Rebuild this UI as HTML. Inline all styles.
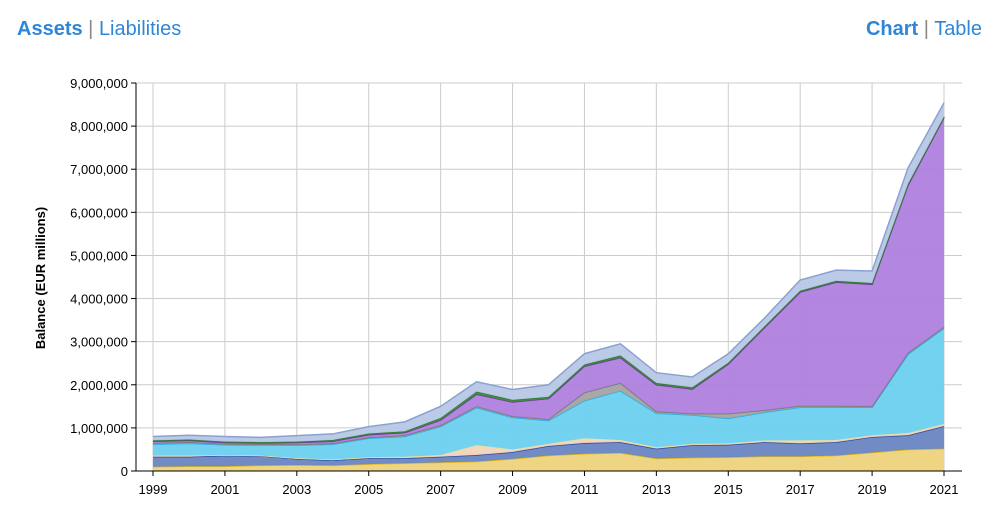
<!DOCTYPE html>
<html><head><meta charset="utf-8"><style>
body{margin:0;background:#fff;font-family:"Liberation Sans",sans-serif;}
#wrap{position:relative;width:992px;height:514px;overflow:hidden}
.hdr{position:absolute;top:18px;font-size:20px;color:#2f86d6}
.hdr b{font-weight:bold}
.sep{color:#888}
</style></head><body>
<div id="wrap">
<div class="hdr" style="left:17px"><b>Assets</b> <span class="sep">|</span> <span>Liabilities</span></div>
<div class="hdr" style="right:10px"><b>Chart</b> <span class="sep">|</span> <span>Table</span></div>
<svg id="chart" width="992" height="514" style="position:absolute;left:0;top:0"></svg>
</div>
<script>
const years=[1999,2000,2001,2002,2003,2004,2005,2006,2007,2008,2009,2010,2011,2012,2013,2014,2015,2016,2017,2018,2019,2020,2021];
const gold=[.10,.11,.11,.13,.14,.13,.16,.18,.20,.22,.28,.36,.40,.42,.29,.31,.32,.34,.34,.36,.43,.50,.52];
const blueS=[.23,.22,.25,.22,.14,.12,.14,.12,.13,.15,.16,.22,.25,.25,.23,.29,.29,.33,.30,.31,.36,.33,.52];
const peach=[.03,.03,.01,.01,.02,.02,.02,.03,.04,.23,.06,.05,.11,.05,.03,.03,.03,.04,.07,.05,.04,.05,.05];
const cyan=[.26,.28,.24,.24,.30,.35,.44,.47,.66,.87,.74,.54,.87,1.14,.79,.67,.58,.65,.77,.76,.65,1.83,2.22];
const gray=[.03,.03,.02,.02,.02,.02,.02,.03,.03,.03,.03,.03,.19,.18,.04,.03,.11,.05,.03,.03,.02,.03,.03];
const purple=[.04,.04,.03,.03,.04,.05,.06,.06,.12,.28,.33,.48,.61,.59,.62,.57,1.15,1.91,2.64,2.87,2.83,3.89,4.86];
const green=[.02,.02,.02,.02,.02,.03,.03,.03,.05,.06,.05,.04,.04,.05,.04,.04,.03,.03,.03,.03,.03,.03,.02];
const other=[.09,.10,.12,.11,.14,.14,.16,.22,.27,.23,.24,.28,.25,.27,.24,.24,.21,.19,.25,.25,.28,.37,.32];
const yTicks=[0,1,2,3,4,5,6,7,8,9];
const xTicks=[1999,2001,2003,2005,2007,2009,2011,2013,2015,2017,2019,2021];
const series=[
 {n:'gold-area',v:gold,f:'#edd37c',s:'#e3b714'},
 {n:'securities-area',v:blueS,f:'#6985c2',s:'#2a49a6'},
 {n:'foreign-currency-area',v:peach,f:'#f1d5ba',s:'#e8e0a0'},
 {n:'lending-area',v:cyan,f:'#6dd0f0',s:'#2cb0e2'},
 {n:'other-lending-area',v:gray,f:'#a3a3a3',s:'#777'},
 {n:'monetary-securities-area',v:purple,f:'#af7fdd',s:'#6c3c9a'},
 {n:'government-debt-area',v:green,f:'#3d8b3d',s:'#2f7a2f'},
 {n:'other-assets-area',v:other,f:'#b7c7e5',s:'#8aa1d2'}];
const svg=document.getElementById('chart');const NS='http://www.w3.org/2000/svg';
const L=136,R=962,T=83,B=471,x0=153,x1=944;
const X=y=>x0+(y-years[0])*(x1-x0)/(years[years.length-1]-years[0]);
const Y=v=>B-v*(B-T)/9;
function mk(t,a,p){const e=document.createElementNS(NS,t);for(const k in a)e.setAttribute(k,a[k]);(p||svg).appendChild(e);return e;}
yTicks.forEach(t=>{const g=mk('line',{x1:L,x2:R,y1:Y(t),y2:Y(t),stroke:'#cccccc','stroke-width':1});

const tl=mk('line',{x1:L-5,x2:L,y1:Y(t),y2:Y(t),stroke:'#000'});

const tx=mk('text',{x:L-8,y:Y(t)+5,'text-anchor':'end','font-size':13,fill:'#000'});tx.textContent=(t*1000000).toLocaleString('en-US');
});
xTicks.forEach(t=>{const g=mk('line',{x1:X(t),x2:X(t),y1:T,y2:B,stroke:'#cccccc'});

const tl=mk('line',{x1:X(t),x2:X(t),y1:B,y2:B+5,stroke:'#000'});

const tx=mk('text',{x:X(t),y:B+23,'text-anchor':'middle','font-size':13,fill:'#000'});tx.textContent=t;
});
let base=years.map(()=>0);
series.forEach(s=>{const top=base.map((b,i)=>b+s.v[i]);
let d='M'+years.map((y,i)=>X(y)+','+Y(top[i])).join('L');
d+='L'+years.map((y,i)=>[X(y),Y(base[i])]).reverse().map(p=>p.join(',')).join('L')+'Z';
const p=mk('path',{d:d,fill:s.f,'fill-opacity':0.95});

const ln=mk('polyline',{points:years.map((y,i)=>X(y)+','+Y(top[i])).join(' '),fill:'none',stroke:s.s,'stroke-width':1.5});

base=top;});
const ax=mk('line',{x1:L,x2:L,y1:T,y2:B,stroke:'#000'});
const bx=mk('line',{x1:L,x2:R,y1:B,y2:B,stroke:'#000'});
const yt=mk('text',{x:0,y:0,transform:'translate(45,278) rotate(-90)','text-anchor':'middle','font-size':13,'font-weight':'bold',fill:'#000'});
yt.textContent='Balance (EUR millions)';
</script>
</body></html>
